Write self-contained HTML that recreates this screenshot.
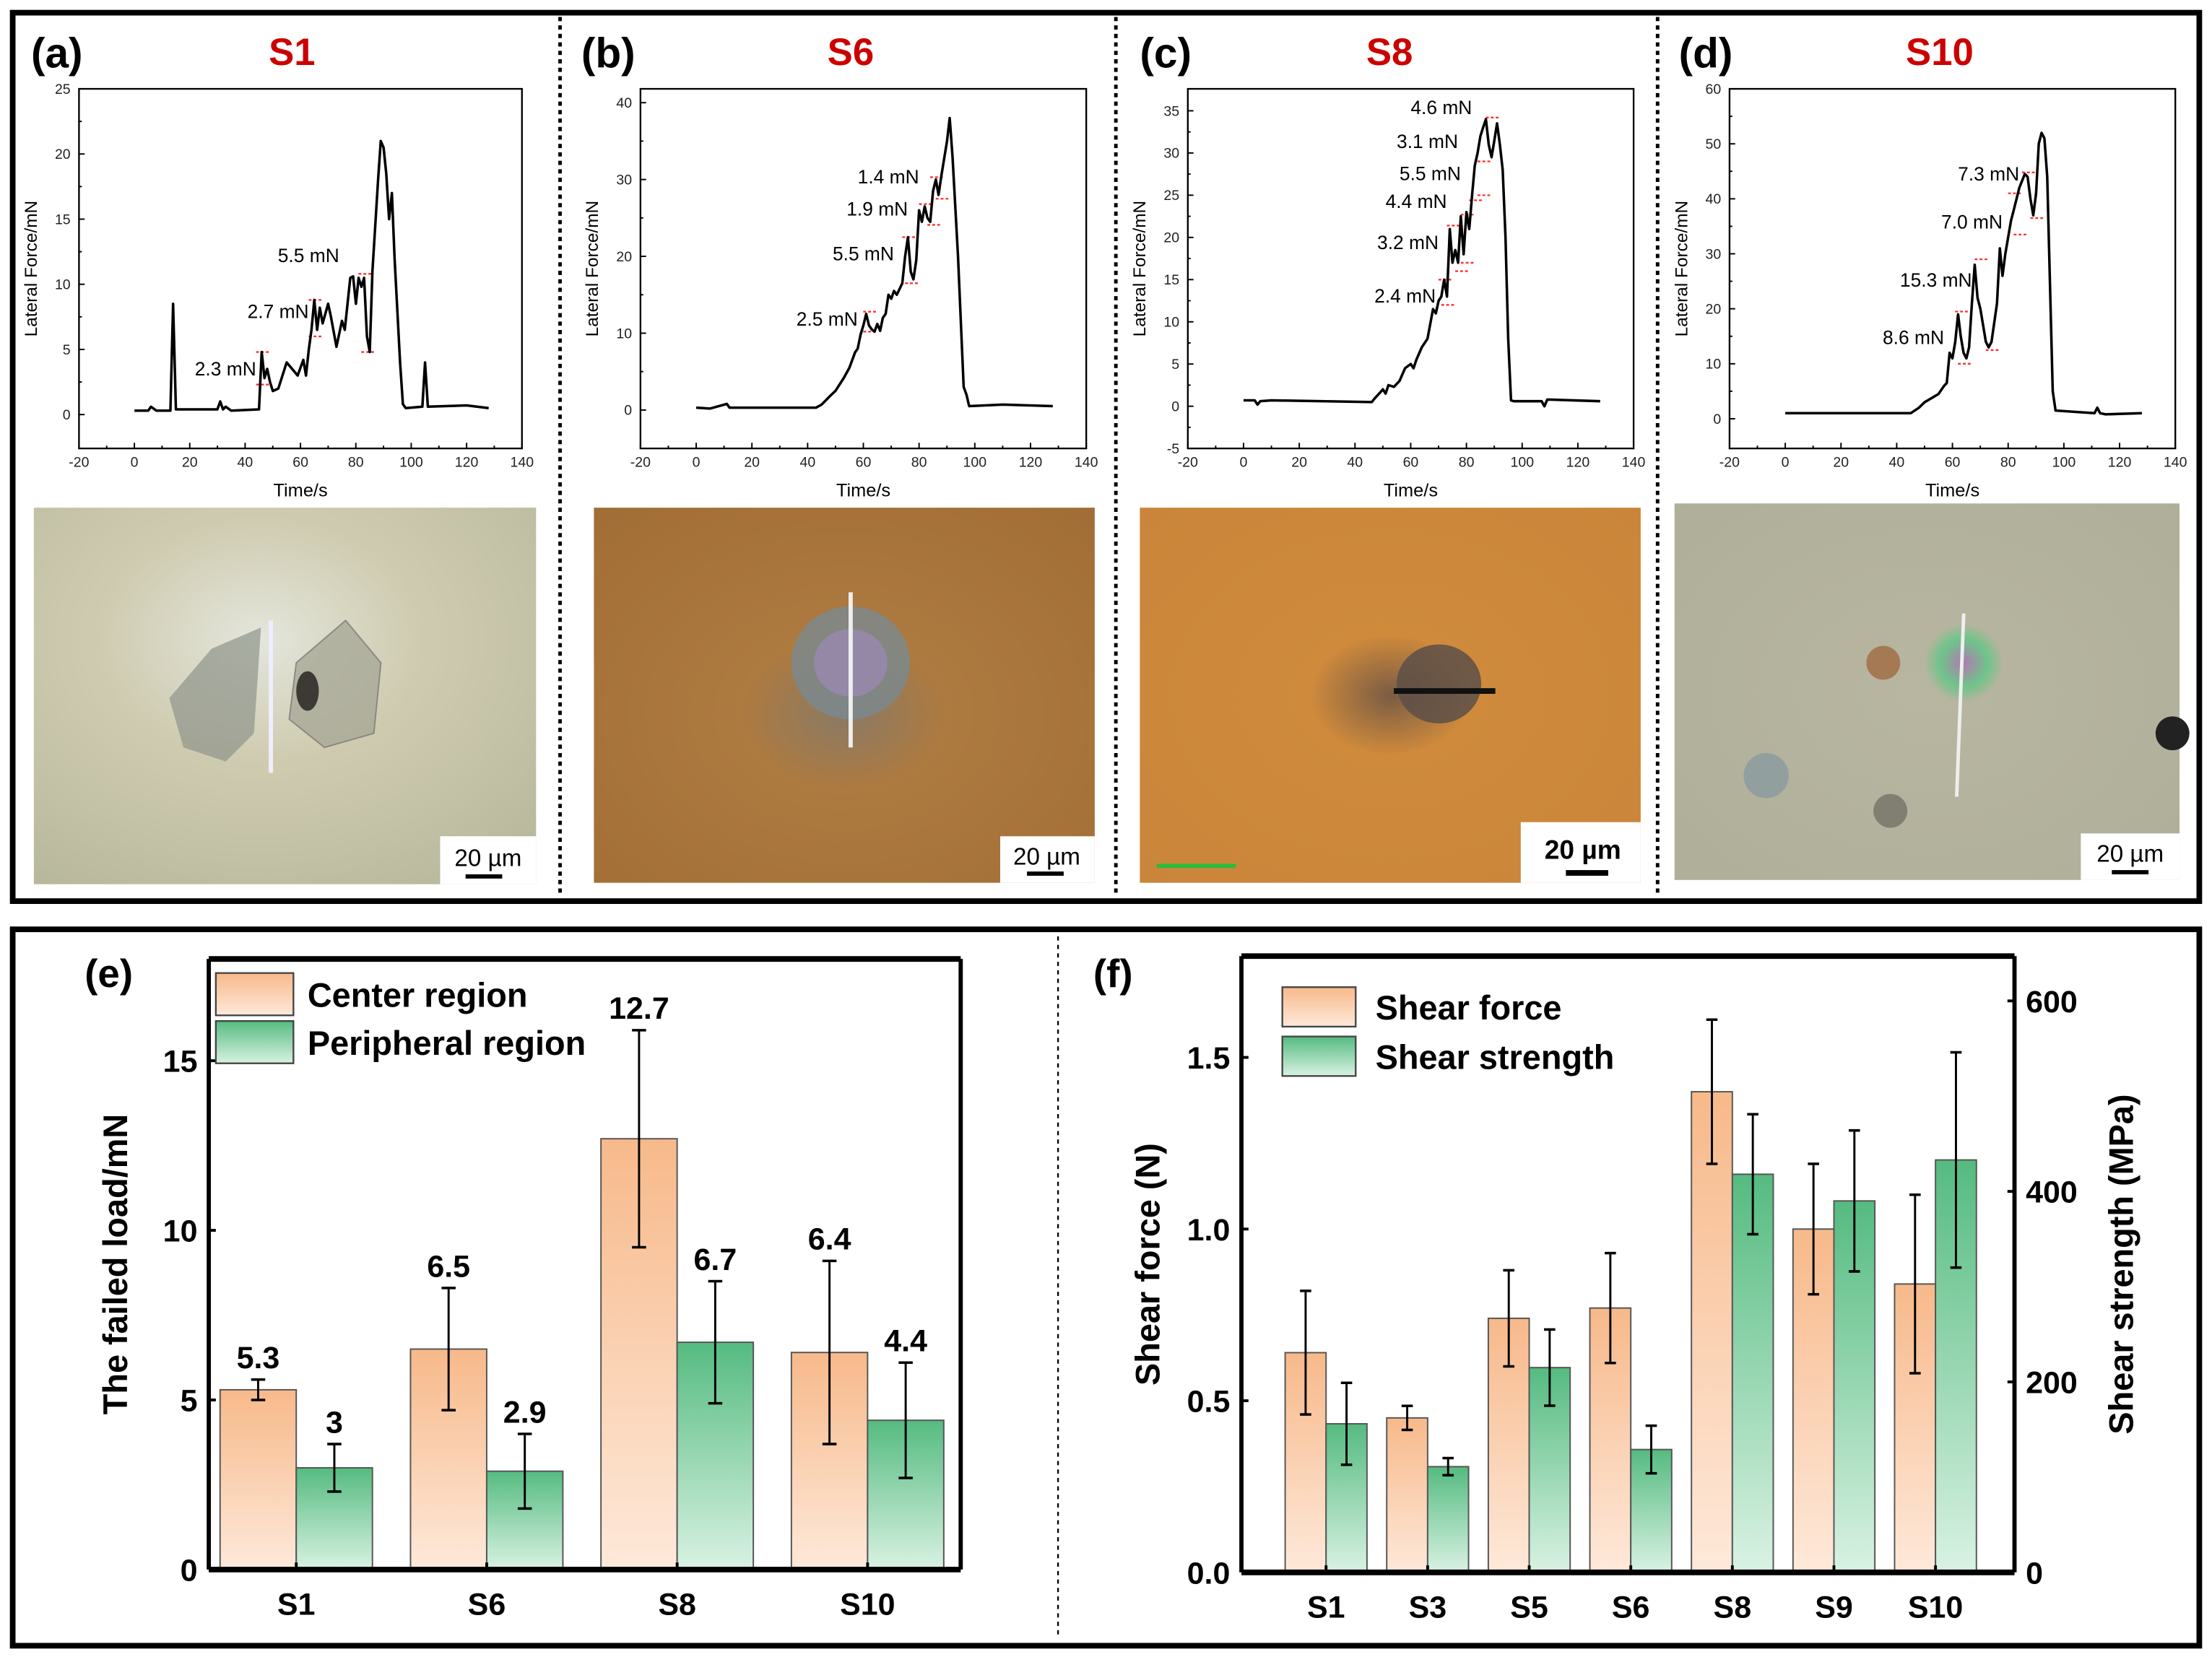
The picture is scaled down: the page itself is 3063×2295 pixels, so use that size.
<!DOCTYPE html>
<html><head><meta charset="utf-8">
<style>
html,body{margin:0;padding:0;background:#fff;}
svg{display:block;}
text{font-family:"Liberation Sans",Arial,sans-serif;}
.b{font-weight:bold;}
.n{font-family:"Liberation Sans Narrow","Liberation Sans",sans-serif;font-weight:bold;}
</style></head>
<body>
<svg id="fig" width="3063" height="2295" viewBox="0 0 1568 1175" preserveAspectRatio="none" xmlns="http://www.w3.org/2000/svg">
<defs>
<linearGradient id="gO" x1="0" y1="0" x2="0" y2="1"><stop offset="0" stop-color="#f7b98a"/><stop offset="1" stop-color="#fee9da"/></linearGradient>
<linearGradient id="gG" x1="0" y1="0" x2="0" y2="1"><stop offset="0" stop-color="#55bb80"/><stop offset="1" stop-color="#d9f2e3"/></linearGradient>
<radialGradient id="imA" cx="0.45" cy="0.35" r="0.8"><stop offset="0" stop-color="#e4e6dc"/><stop offset="0.4" stop-color="#cfcbb0"/><stop offset="1" stop-color="#b7b79c"/></radialGradient>
<radialGradient id="imB" cx="0.5" cy="0.55" r="0.8"><stop offset="0" stop-color="#8a7a66"/><stop offset="0.25" stop-color="#ad7a40"/><stop offset="1" stop-color="#a06c35"/></radialGradient>
<radialGradient id="imC" cx="0.5" cy="0.5" r="0.8"><stop offset="0" stop-color="#7a5c44"/><stop offset="0.2" stop-color="#cf8a3c"/><stop offset="1" stop-color="#c9843a"/></radialGradient>
<radialGradient id="imD" cx="0.5" cy="0.5" r="0.8"><stop offset="0" stop-color="#b8b6a0"/><stop offset="1" stop-color="#aeae98"/></radialGradient>
<radialGradient id="ring" cx="0.5" cy="0.5" r="0.5"><stop offset="0" stop-color="#b07ab0"/><stop offset="0.6" stop-color="#6fc48a"/><stop offset="1" stop-color="#6fc48a" stop-opacity="0"/></radialGradient>
</defs>

<rect x="9" y="9" width="1550" height="630" fill="none" stroke="#000" stroke-width="4"/>
<rect x="9" y="659" width="1550" height="508" fill="none" stroke="#000" stroke-width="4"/>
<g stroke="#000" stroke-width="2.5" stroke-dasharray="3,3">
<line x1="397" y1="12" x2="397" y2="636"/><line x1="791" y1="12" x2="791" y2="636"/><line x1="1175" y1="12" x2="1175" y2="636"/>
<line x1="750" y1="664" x2="750" y2="1162" stroke-width="1.2" stroke-dasharray="3,3"/>
</g>

<g class="b" font-size="30">
<text x="22" y="48">(a)</text><text x="412" y="48">(b)</text><text x="808" y="48">(c)</text><text x="1190" y="48">(d)</text>
</g>
<g class="b" font-size="27" fill="#cc0000" text-anchor="middle">
<text x="207" y="46">S1</text><text x="603" y="46">S6</text><text x="985" y="46">S8</text><text x="1375" y="46">S10</text>
</g>
<g id="plots"></g>

<g>
<rect x="24" y="360" width="356" height="267" fill="url(#imA)"/>
<path d="M150 460 L185 445 L180 520 L160 540 L130 530 L120 495 Z" fill="#8f948a" opacity="0.7"/>
<path d="M210 470 L245 440 L270 470 L265 520 L230 530 L205 510 Z" fill="#a9a998" stroke="#777" stroke-width="1" opacity="0.8"/>
<ellipse cx="218" cy="490" rx="8" ry="14" fill="#3d3a35"/>
<line x1="192" y1="440" x2="192" y2="548" stroke="#eef" stroke-width="3"/>
<rect x="312" y="593" width="68" height="34" fill="#fff"/>
<text x="346" y="614" font-size="17" text-anchor="middle">20 µm</text>
<rect x="330" y="620" width="26" height="3" fill="#000"/>
</g>
<g>
<rect x="421" y="360" width="355" height="266" fill="url(#imB)"/>
<ellipse cx="603" cy="470" rx="42" ry="40" fill="#7b8a90" opacity="0.8"/>
<ellipse cx="603" cy="470" rx="26" ry="24" fill="#9a88b0" opacity="0.8"/>
<line x1="603" y1="420" x2="603" y2="530" stroke="#eee" stroke-width="3"/>
<rect x="709" y="593" width="67" height="33" fill="#fff"/>
<text x="742" y="613" font-size="17" text-anchor="middle">20 µm</text>
<rect x="728" y="618" width="26" height="3" fill="#000"/>
</g>
<g>
<rect x="808" y="360" width="355" height="266" fill="url(#imC)"/>
<ellipse cx="1020" cy="485" rx="30" ry="28" fill="#5d4f48" opacity="0.85"/>
<line x1="988" y1="490" x2="1060" y2="490" stroke="#111" stroke-width="4"/>
<line x1="820" y1="614" x2="876" y2="614" stroke="#2cbb3a" stroke-width="3"/>
<rect x="1078" y="583" width="85" height="43" fill="#fff"/>
<text x="1122" y="609" font-size="19" class="b" text-anchor="middle">20 µm</text>
<rect x="1110" y="617" width="30" height="4" fill="#000"/>
</g>
<g>
<rect x="1187" y="357" width="358" height="267" fill="url(#imD)"/>
<circle cx="1392" cy="470" r="28" fill="url(#ring)"/>
<line x1="1392" y1="435" x2="1387" y2="565" stroke="#eee" stroke-width="2.5"/>
<circle cx="1335" cy="470" r="12" fill="#a06a40" opacity="0.8"/>
<circle cx="1252" cy="550" r="16" fill="#8a9aa0" opacity="0.8"/>
<circle cx="1340" cy="575" r="12" fill="#6a6a60" opacity="0.7"/>
<circle cx="1540" cy="520" r="12" fill="#222"/>
<rect x="1475" y="591" width="70" height="33" fill="#fff"/>
<text x="1510" y="611" font-size="17" text-anchor="middle">20 µm</text>
<rect x="1497" y="617" width="26" height="3" fill="#000"/>
</g>
<g id="bars"></g>
</svg>
<script>
const aTime=[0,5,6,8,13,14,15,30,31,32,33,35,45,46,47,48,49,50,52,55,57,59,61,62,63,64,65,66,67,68,70,71,73,75,76,78,79,80,81,82,83,84,85,86,88,89,90,91,92,93,94,96,97,98,104,105,106,120,128];
const aForce=[0.3,0.3,0.6,0.3,0.3,8.5,0.4,0.4,1.0,0.4,0.6,0.3,0.4,4.8,2.8,3.5,2.5,1.8,2.0,4.0,3.5,3.0,4.2,3.0,5.0,6.5,8.8,6.5,8.2,7.0,8.5,7.5,5.2,7.2,6.5,10.5,10.6,8.5,10.5,9.8,10.5,6.0,4.8,11.0,18.0,21.0,20.5,18.5,15.0,17.0,12.0,4.0,0.8,0.5,0.6,4.0,0.6,0.7,0.5];
const bTime=[0,5,11,12,43,45,48,50,53,55,57,58,59,60,61,62,63,64,65,66,67,68,69,70,71,72,74,75,76,77,78,79,80,81,82,83,84,85,86,87,88,90,91,92,94,96,97,98,110,128];
const bForce=[0.3,0.2,0.8,0.3,0.3,0.7,1.8,2.5,4.2,5.5,7.5,8.0,9.8,11.0,12.5,11.0,10.5,10.2,11.2,10.3,12.0,12.5,15.0,14.5,15.5,15.0,16.5,20.0,22.5,18.0,17.0,19.5,26.0,24.5,26.5,25.0,24.5,28.5,30.0,28.0,30.5,35.0,38.0,33.0,20.0,3.0,2.0,0.5,0.7,0.5];
const cTime=[0,4,5,6,10,46,47,50,51,52,54,56,58,60,61,62,64,66,68,69,70,71,72,73,74,75,76,77,78,79,80,81,82,83,84,85,86,87,88,89,90,91,92,93,94,95,96,97,107,108,109,128];
const cForce=[0.7,0.7,0.2,0.6,0.7,0.5,0.9,2.0,1.5,2.5,2.3,3.0,4.5,5.0,4.5,5.5,7.0,8.0,11.5,11.0,12.5,13.0,15.0,13.0,21.0,17.0,18.5,17.0,22.5,18.0,23.0,21.0,25.0,28.5,30.0,32.0,33.0,34.0,31.0,29.5,31.5,33.5,31.0,28.0,20.0,8.0,0.7,0.6,0.6,0.0,0.8,0.6];
const dTime=[0,20,45,48,50,55,57,58,59,60,61,62,63,64,65,66,67,68,69,70,72,73,74,76,77,78,79,80,81,82,84,86,87,88,89,90,91,92,93,94,95,96,97,111,112,113,115,128];
const dForce=[1.0,1.0,1.0,2.0,3.0,4.5,6.0,6.5,12.0,11.0,14.0,19.0,15.0,12.0,11.0,13.0,21.0,28.0,22.0,20.0,14.0,13.0,14.0,21.0,31.0,26.0,30.0,33.0,36.0,38.0,42.0,44.5,44.0,40.0,37.0,41.0,50.0,52.0,51.0,44.0,25.0,5.0,1.5,1.0,2.0,1.0,0.8,1.0];
const aLabels=["2.3 mN","2.7 mN","5.5 mN"], aLabT=[44,63,74], aLabF=[3.0,7.4,11.7];
const bLabels=["2.5 mN","5.5 mN","1.9 mN","1.4 mN"], bLabT=[58,71,76,80], bLabF=[11.0,19.5,25.3,29.5];
const cLabels=["2.4 mN","3.2 mN","4.4 mN","5.5 mN","3.1 mN","4.6 mN"], cLabT=[69,70,73,78,77,82], cLabF=[12.3,18.6,23.5,26.8,30.6,34.6];
const dLabels=["8.6 mN","15.3 mN","7.0 mN","7.3 mN"], dLabT=[57,67,78,84], dLabF=[13.6,24.0,34.6,43.3];
const aMarkT=[46,46,65,65,83,84], aMarkF=[4.8,2.3,8.8,6.0,10.8,4.8];
const bMarkT=[62,62,76,77,82,85,86,88], bMarkF=[12.8,10.2,22.5,16.5,26.8,24.1,30.3,27.5];
const cMarkT=[72,73,75,78,80,80,83,86,86,89], cMarkF=[15.0,12.0,21.4,16.0,22.7,17.0,24.4,25.0,29.0,34.2];
const dMarkT=[63,64,70,74,82,84,87,90], dMarkF=[19.5,10.0,29.0,12.5,41.0,33.5,44.8,36.5];
const xTicks=[-20,0,20,40,60,80,100,120,140];
const aYTicks=[0,5,10,15,20,25], bYTicks=[0,10,20,30,40], cYTicks=[-5,0,5,10,15,20,25,30,35], dYTicks=[0,10,20,30,40,50,60];

const NS="http://www.w3.org/2000/svg";
function mk(tag,attrs,parent){const e=document.createElementNS(NS,tag);for(const k in attrs)e.setAttribute(k,attrs[k]);if(parent)parent.appendChild(e);return e;}

function linePlot(id,box,ymin,ymax,yTicks,yMinor,T,F,labs,labT,labF,mT,mF){
  const g=mk('g',{},document.getElementById('plots'));
  
  
  const sx=v=>box.x0+(v+20)/160*(box.x1-box.x0);
  const sy=v=>box.y1-(v-ymin)/(ymax-ymin)*(box.y1-box.y0);
  mk('rect',{x:box.x0,y:box.y0,width:box.x1-box.x0,height:box.y1-box.y0,fill:'none',stroke:'#000','stroke-width':1.2},g);
  xTicks.forEach(t=>{const x=sx(t);mk('line',{x1:x,y1:box.y1,x2:x,y2:box.y1-4,stroke:'#000','stroke-width':1},g);
    const tx=mk('text',{x:x,y:box.y1+13,'font-size':10,'text-anchor':'middle',fill:'#222'},g);tx.textContent=t;});
  for(let t=-10;t<140;t+=20){const x=sx(t);mk('line',{x1:x,y1:box.y1,x2:x,y2:box.y1-2,stroke:'#000','stroke-width':1},g);}
  yTicks.forEach(t=>{const y=sy(t);mk('line',{x1:box.x0,y1:y,x2:box.x0+4,y2:y,stroke:'#000','stroke-width':1},g);
    const tx=mk('text',{x:box.x0-6,y:y+3.5,'font-size':10,'text-anchor':'end',fill:'#222'},g);tx.textContent=t;});
  for(let i=0;i<yTicks.length-1;i++){const y=sy((yTicks[i]+yTicks[i+1])/2);mk('line',{x1:box.x0,y1:y,x2:box.x0+2,y2:y,stroke:'#000','stroke-width':1},g);}
  const xt=mk('text',{x:(box.x0+box.x1)/2,y:box.y1+34,'font-size':13,'text-anchor':'middle'},g);xt.textContent='Time/s';
  const cy=(box.y0+box.y1)/2;
  const yt=mk('text',{x:box.x0-30,y:cy,'font-size':12.5,'text-anchor':'middle',transform:'rotate(-90 '+(box.x0-30)+' '+cy+')'},g);yt.textContent='Lateral Force/mN';
  for(let i=0;i<mT.length;i++){const l=mk('line',{x1:sx(mT[i])-4,y1:sy(mF[i]),x2:sx(mT[i])+6,y2:sy(mF[i]),stroke:'#ff3030','stroke-width':1.2,'stroke-dasharray':'2,1.5'},g);
    
    }
  const p=mk('path',{d:T.map((t,i)=>(i?'L':'M')+sx(t).toFixed(1)+' '+sy(F[i]).toFixed(1)).join(''),fill:'none',stroke:'#000','stroke-width':1.8,'stroke-linejoin':'round'},g);
  
  
  labs.forEach((s,i)=>{const tx=mk('text',{x:sx(labT[i]),y:sy(labF[i]),'font-size':13.5,'text-anchor':'end'},g);tx.textContent=s;
    
    });
}
linePlot('a',{x0:56,x1:370,y0:63,y1:318},-2.6,25,aYTicks,true,aTime,aForce,aLabels,aLabT,aLabF,aMarkT,aMarkF);
linePlot('b',{x0:454,x1:770,y0:63,y1:318},-5,41.8,bYTicks,true,bTime,bForce,bLabels,bLabT,bLabF,bMarkT,bMarkF);
linePlot('c',{x0:842,x1:1158,y0:63,y1:318},-5,37.6,cYTicks,true,cTime,cForce,cLabels,cLabT,cLabF,cMarkT,cMarkF);
linePlot('d',{x0:1226,x1:1542,y0:63,y1:318},-5.4,60,dYTicks,true,dTime,dForce,dLabels,dLabT,dLabF,dMarkT,dMarkF);

const eCats=["S1","S6","S8","S10"];
const eCenter=[5.3,6.5,12.7,6.4], eCenterErr=[0.3,1.8,3.2,2.7];
const ePeri=[3.0,2.9,6.7,4.4], ePeriErr=[0.7,1.1,1.8,1.7];
const eCenterLbl=["5.3","6.5","12.7","6.4"], ePeriLbl=["3","2.9","6.7","4.4"];
const eTicks=[0,5,10,15];
const fCats=["S1","S3","S5","S6","S8","S9","S10"];
const fForce=[0.64,0.45,0.74,0.77,1.40,1.00,0.84], fForceErr=[0.18,0.035,0.14,0.16,0.21,0.19,0.26];
const fStrength=[156,111,215,129,418,390,433], fStrengthErr=[43,9,40,25,63,74,113];
const fLTicks=[0.0,0.5,1.0,1.5], fRTicks=[0,200,400,600];

const B=document.getElementById('bars');
function txt(parent,attrs,s){const t=mk('text',attrs,parent);t.textContent=s;return t;}
function errbar(g,x,yTop,yBot,cap){mk('line',{x1:x,y1:yTop,x2:x,y2:yBot,stroke:'#000','stroke-width':1.5},g);
  mk('line',{x1:x-cap,y1:yTop,x2:x+cap,y2:yTop,stroke:'#000','stroke-width':1.8},g);
  mk('line',{x1:x-cap,y1:yBot,x2:x+cap,y2:yBot,stroke:'#000','stroke-width':1.8},g);}

(function(){
  const g=mk('g',{},B);
  
  
  const x0=148,x1=681,y0=680,y1=1113,ymax=18;
  const sy=v=>y1-v/ymax*(y1-y0);
  const gw=135, bw=54, first=210;
  txt(g,{x:60,y:700,'font-size':28,class:'b'},'(e)');
  eCats.forEach((c,i)=>{
    const cx=first+gw*i;
    const r1=mk('rect',{x:cx-bw,y:sy(eCenter[i]),width:bw,height:y1-sy(eCenter[i]),fill:'url(#gO)',stroke:'#555','stroke-width':1},g);
    
    
    const r2=mk('rect',{x:cx,y:sy(ePeri[i]),width:bw,height:y1-sy(ePeri[i]),fill:'url(#gG)',stroke:'#555','stroke-width':1},g);
    
    
    errbar(g,cx-bw/2,sy(eCenter[i]+eCenterErr[i]),sy(eCenter[i]-eCenterErr[i]),5);
    errbar(g,cx+bw/2,sy(ePeri[i]+ePeriErr[i]),sy(ePeri[i]-ePeriErr[i]),5);
    txt(g,{x:cx-bw/2,y:sy(eCenter[i]+eCenterErr[i])-8,'font-size':22,class:'n','text-anchor':'middle'},eCenterLbl[i]);
    txt(g,{x:cx+bw/2,y:sy(ePeri[i]+ePeriErr[i])-8,'font-size':22,class:'n','text-anchor':'middle'},ePeriLbl[i]);
    txt(g,{x:cx,y:1145,'font-size':22,class:'n','text-anchor':'middle'},c);
    mk('line',{x1:cx,y1:y1,x2:cx,y2:y1-5,stroke:'#000','stroke-width':2},g);
  });
  mk('line',{x1:x0,y1:y0,x2:x1,y2:y0,stroke:'#000','stroke-width':4},g);
  mk('line',{x1:x0,y1:y1,x2:x1,y2:y1,stroke:'#000','stroke-width':4},g);
  mk('line',{x1:x0,y1:y0,x2:x0,y2:y1,stroke:'#000','stroke-width':3},g);
  mk('line',{x1:x1,y1:y0,x2:x1,y2:y1,stroke:'#000','stroke-width':3},g);
  eTicks.forEach(t=>{mk('line',{x1:x0,y1:sy(t),x2:x0+5,y2:sy(t),stroke:'#000','stroke-width':2},g);
    txt(g,{x:x0-8,y:sy(t)+8,'font-size':22,class:'n','text-anchor':'end'},t);});
  const cy=(y0+y1)/2;
  txt(g,{x:90,y:cy,'font-size':24,class:'b','text-anchor':'middle',transform:'rotate(-90 90 '+cy+')'},'The failed load/mN');
  const l1=mk('rect',{x:153,y:690,width:55,height:30,fill:'url(#gO)',stroke:'#444','stroke-width':1.2},g);
  
  
  const l2=mk('rect',{x:153,y:724,width:55,height:30,fill:'url(#gG)',stroke:'#444','stroke-width':1.2},g);
  
  
  txt(g,{x:218,y:714,'font-size':24,class:'n'},'Center region');
  txt(g,{x:218,y:748,'font-size':24,class:'n'},'Peripheral region');
})();

(function(){
  const g=mk('g',{},B);
  
  
  const x0=880,x1=1428,y0=678,y1=1115,lmax=1.795,rmax=647;
  const syL=v=>y1-v/lmax*(y1-y0), syR=v=>y1-v/rmax*(y1-y0);
  const gw=72, bw=29, first=940;
  txt(g,{x:775,y:700,'font-size':28,class:'b'},'(f)');
  fCats.forEach((c,i)=>{
    const cx=first+gw*i;
    const r1=mk('rect',{x:cx-bw,y:syL(fForce[i]),width:bw,height:y1-syL(fForce[i]),fill:'url(#gO)',stroke:'#555','stroke-width':1},g);
    
    
    const r2=mk('rect',{x:cx,y:syR(fStrength[i]),width:bw,height:y1-syR(fStrength[i]),fill:'url(#gG)',stroke:'#555','stroke-width':1},g);
    
    
    errbar(g,cx-bw/2,syL(fForce[i]+fForceErr[i]),syL(fForce[i]-fForceErr[i]),4);
    errbar(g,cx+bw/2,syR(fStrength[i]+fStrengthErr[i]),syR(fStrength[i]-fStrengthErr[i]),4);
    txt(g,{x:cx,y:1147,'font-size':22,class:'n','text-anchor':'middle'},c);
    mk('line',{x1:cx,y1:y1,x2:cx,y2:y1-5,stroke:'#000','stroke-width':2},g);
  });
  mk('line',{x1:x0,y1:y0,x2:x1,y2:y0,stroke:'#000','stroke-width':4},g);
  mk('line',{x1:x0,y1:y1,x2:x1,y2:y1,stroke:'#000','stroke-width':4},g);
  mk('line',{x1:x0,y1:y0,x2:x0,y2:y1,stroke:'#000','stroke-width':3},g);
  mk('line',{x1:x1,y1:y0,x2:x1,y2:y1,stroke:'#000','stroke-width':3},g);
  fLTicks.forEach(t=>{mk('line',{x1:x0,y1:syL(t),x2:x0+5,y2:syL(t),stroke:'#000','stroke-width':2},g);
    txt(g,{x:x0-8,y:syL(t)+8,'font-size':22,class:'n','text-anchor':'end'},t.toFixed(1));});
  fRTicks.forEach(t=>{mk('line',{x1:x1,y1:syR(t),x2:x1-5,y2:syR(t),stroke:'#000','stroke-width':2},g);
    txt(g,{x:x1+8,y:syR(t)+8,'font-size':22,class:'n'},t);});
  const cy=(y0+y1)/2;
  txt(g,{x:822,y:cy,'font-size':24,class:'b','text-anchor':'middle',transform:'rotate(-90 822 '+cy+')'},'Shear force (N)');
  txt(g,{x:1512,y:cy,'font-size':24,class:'b','text-anchor':'middle',transform:'rotate(-90 1512 '+cy+')'},'Shear strength (MPa)');
  const l1=mk('rect',{x:909,y:700,width:52,height:28,fill:'url(#gO)',stroke:'#444','stroke-width':1.2},g);
  
  
  const l2=mk('rect',{x:909,y:735,width:52,height:28,fill:'url(#gG)',stroke:'#444','stroke-width':1.2},g);
  
  
  txt(g,{x:975,y:723,'font-size':24,class:'n'},'Shear force');
  txt(g,{x:975,y:758,'font-size':24,class:'n'},'Shear strength');
})();
</script>
</body></html>
